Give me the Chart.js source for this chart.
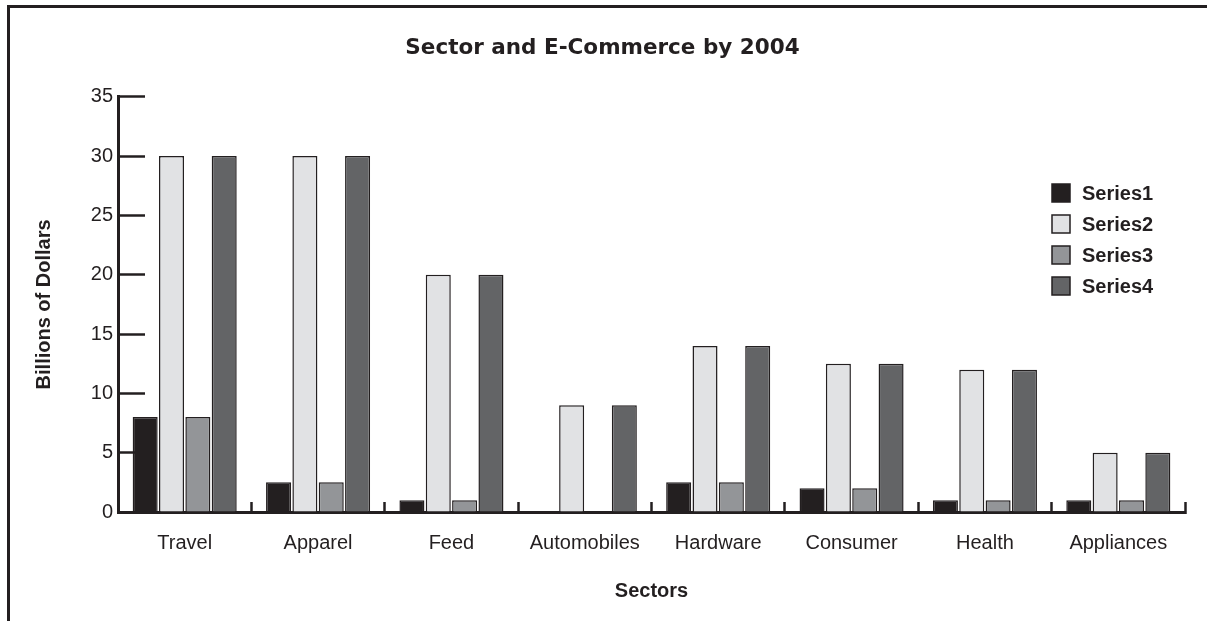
<!DOCTYPE html>
<html>
<head>
<meta charset="utf-8">
<title>Sector and E-Commerce by 2004</title>
<script src="https://cdn.jsdelivr.net/npm/chart.js@4/dist/chart.umd.min.js"></script>
<style>
  html, body { margin: 0; padding: 0; background: #fff; }
  #wrap { width: 1207px; height: 621px; position: relative; }
</style>
</head>
<body>
<div id="wrap"><canvas id="sectorChart"></canvas></div>
<script>
const sectors = ["Travel", "Apparel", "Feed", "Automobiles", "Hardware", "Consumer", "Health", "Appliances"];
const series1 = [8, 2.5, 1, 0, 2.5, 2, 1, 1];
const series2 = [30, 30, 20, 9, 14, 12.5, 12, 5];
const series3 = [8, 2.5, 1, 0, 2.5, 2, 1, 1];
const series4 = [30, 30, 20, 9, 14, 12.5, 12, 5];
const seriesNames = ["Series1", "Series2", "Series3", "Series4"];
const seriesColors = ["#231f20", "#e1e2e4", "#939598", "#636466"];

const INK = "#231f20";
const FONT = "'Liberation Sans', Arial, Helvetica, sans-serif";

// page frame: heavy rule along the top and left edges
const framePlugin = {
  id: "frame",
  afterDraw(chart) {
    const ctx = chart.ctx;
    ctx.save();
    ctx.strokeStyle = INK;
    ctx.lineWidth = 3;
    ctx.beginPath();
    ctx.moveTo(8.5, 621);
    ctx.lineTo(8.5, 6.5);
    ctx.lineTo(1207, 6.5);
    ctx.stroke();
    ctx.restore();
  }
};

// legend sits inside the plot, upper right
const boxLegend = {
  id: "boxLegend",
  afterDraw(chart) {
    const ctx = chart.ctx;
    ctx.save();
    ctx.font = "bold 20px " + FONT;
    ctx.textBaseline = "middle";
    ctx.textAlign = "left";
    chart.data.datasets.forEach((ds, i) => {
      const y = 193 + i * 31;
      ctx.fillStyle = ds.backgroundColor;
      ctx.fillRect(1052, y - 9, 18, 18);
      ctx.strokeStyle = INK;
      ctx.lineWidth = 1.5;
      ctx.strokeRect(1052, y - 9, 18, 18);
      ctx.fillStyle = INK;
      ctx.fillText(ds.label, 1082, y + 1);
    });
    ctx.restore();
  }
};

const values = [series1, series2, series3, series4];

new Chart(document.getElementById("sectorChart"), {
  type: "bar",
  data: {
    labels: sectors,
    datasets: values.map((v, i) => ({
      label: seriesNames[i],
      data: v,
      backgroundColor: seriesColors[i],
      borderColor: INK,
      borderWidth: 1.5,
      categoryPercentage: 0.79,
      barPercentage: 0.95,
    })),
  },
  options: {
    responsive: true,
    maintainAspectRatio: false,
    animation: false,
    layout: { padding: { left: 20, right: 22, top: 0, bottom: 0 } },
    plugins: {
      legend: { display: false },
      tooltip: { enabled: false },
      title: {
        display: true,
        text: "Sector and E-Commerce by 2004",
        color: INK,
        font: { family: "'DejaVu Sans', sans-serif", size: 21.5, weight: "bold" },
        padding: { top: 36, bottom: 35 },
      },
    },
    scales: {
      x: {
        afterFit(scale) { scale.height = 109; },
        grid: {
          offset: true,
          drawOnChartArea: false,
          drawTicks: true,
          tickLength: -10,
          tickWidth: 2.5,
          tickColor: INK,
        },
        border: { display: true, color: INK, width: 3 },
        ticks: {
          color: INK,
          font: { family: FONT, size: 20 },
          padding: 29,
          maxRotation: 0,
        },
        title: {
          display: true,
          text: "Sectors",
          color: INK,
          font: { family: FONT, size: 20, weight: "bold" },
          padding: { top: 0, bottom: 18 },
        },
      },
      y: {
        min: 0,
        max: 35,
        afterFit(scale) { scale.width = 98; },
        grid: {
          drawOnChartArea: false,
          drawTicks: true,
          tickLength: -27,
          tickWidth: 2.5,
          tickColor: INK,
        },
        border: { display: true, color: INK, width: 3 },
        ticks: {
          stepSize: 5,
          color: INK,
          font: { family: FONT, size: 20 },
          padding: 32,
        },
        title: {
          display: true,
          text: "Billions of Dollars",
          color: INK,
          font: { family: FONT, size: 20, weight: "bold" },
          padding: { top: 12, bottom: 0 },
        },
      },
    },
  },
  plugins: [framePlugin, boxLegend],
});
</script>
</body>
</html>
